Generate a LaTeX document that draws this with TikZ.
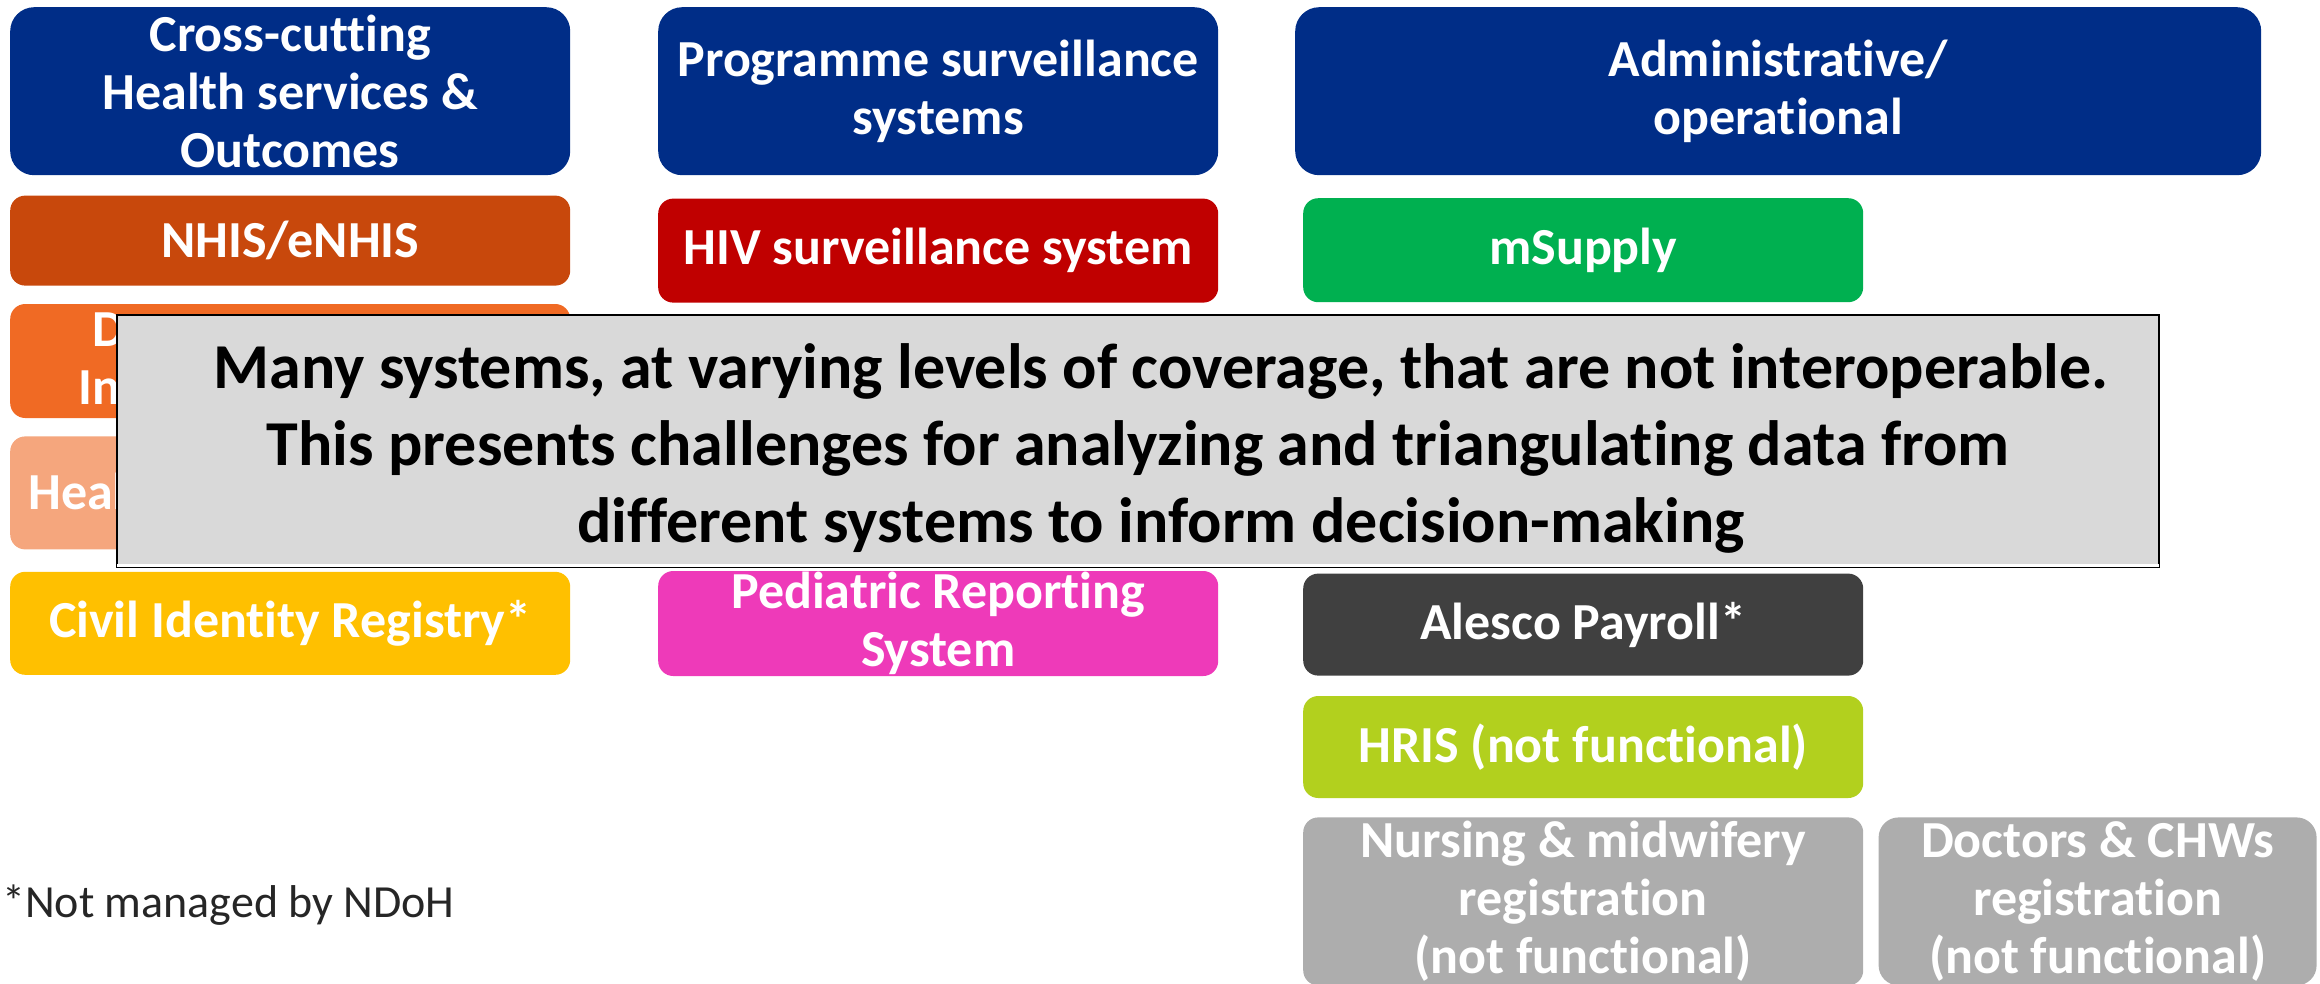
\documentclass[tikz,border=0pt]{standalone}
\usepackage{fontspec}
\setmainfont{Carlito}[Ligatures=NoCommon]
\usetikzlibrary{positioning}

\definecolor{hdblue}{RGB}{0,45,135}
\definecolor{nhisorange}{RGB}{200,72,12}
\definecolor{brightorange}{RGB}{240,106,36}
\definecolor{peach}{RGB}{245,166,125}
\definecolor{civilyellow}{RGB}{255,192,0}
\definecolor{hivred}{RGB}{192,0,0}
\definecolor{pedpink}{RGB}{238,58,185}
\definecolor{supplygreen}{RGB}{0,176,80}
\definecolor{darkgrey}{RGB}{64,64,64}
\definecolor{hrislime}{RGB}{178,208,30}
\definecolor{regrey}{RGB}{173,173,173}
\definecolor{msggrey}{RGB}{217,217,217}

\begin{document}
\begin{tikzpicture}
		[
		x=1pt, y=-1pt,
		font=\fontsize{52}{58}\selectfont\bfseries,
		block/.style ={rectangle, rounded corners=15pt, text=white, align=center, inner sep=0pt, minimum width=560pt},
		head/.style ={block, fill=hdblue, rounded corners=24pt, minimum height=168pt},
		frag/.style ={text=white, inner sep=0pt, anchor=base west}
		]
		\useasboundingbox (0,0) rectangle (2320,983);
		% column headers
		\node[anchor=north west] (h1) [head] at (10,7) {Cross-cutting\\Health services \&\\Outcomes};
		\node[anchor=north west] (h2) [head] at (658,7) {Programme surveillance\\systems};
		\node[anchor=north west] (h3) [head, minimum width=966pt] at (1295,7) {Administrative/\\operational};
		% cross-cutting
		\node[below=20pt of h1] (a1) [block, fill=nhisorange, minimum height=90pt] {NHIS/eNHIS};
		\node[below=18pt of a1] (a2) [block, fill=brightorange, minimum height=114pt] {};
		\node[below=18pt of a2] (a3) [block, fill=peach, minimum height=113pt] {};
		\node[below=22pt of a3] (a4) [block, fill=civilyellow, minimum height=103pt] {Civil Identity Registry*};
		\node (a2t) [frag] at (92,346) {D};
		\node (a2u) [frag] at (78,404) {In};
		\node (a3t) [frag] at (28,509) {Heal};
		% programme surveillance
		\node[below=23pt of h2] (b1) [block, fill=hivred, minimum height=104pt] {HIV surveillance system};
		\node[below=268pt of b1] (b2) [block, fill=pedpink, minimum height=105pt] {Pediatric Reporting\\System};
		% administrative
		\node[anchor=north west] (c1) [block, fill=supplygreen, minimum height=104pt] at (1303,198) {mSupply};
		\node[below=271pt of c1] (c2) [block, fill=darkgrey, minimum height=102pt] {Alesco Payroll*};
		\node[below=20pt of c2] (c3) [block, fill=hrislime, minimum height=102pt] {HRIS (not functional)};
		\node[below=19pt of c3] (c4) [block, fill=regrey, minimum height=168pt] {Nursing \& midwifery\\registration\\(not functional)};
		\node[right=15pt of c4] (c5) [block, fill=regrey, minimum height=168pt, minimum width=438pt, rounded corners=20pt] {Doctors \& CHWs\\registration\\(not functional)};
		% message on top
		\node (msg) [rectangle, draw=black, line width=2pt, fill=msggrey, minimum width=2042pt, minimum height=252pt, inner sep=0pt] at (1138,441) {};
		\fill[white] ([xshift=1pt, yshift=1pt]msg.south west) rectangle ([xshift=-1pt, yshift=4pt]msg.south east);
		\node (msgt) [align=center, inner sep=0pt, font=\fontsize{64}{77}\selectfont\bfseries] at ([yshift=-7pt]msg.center) {\hspace*{46pt}Many systems, at varying levels of coverage, that are not interoperable.\\This presents challenges for analyzing and triangulating data from\\\hspace*{46pt}different systems to inform decision-making};
		\node[anchor=base west, inner sep=0pt, text=black!85, font=\fontsize{46}{54}\selectfont] (note) at (2,917) {*Not managed by NDoH};
	\end{tikzpicture}
\end{document}
